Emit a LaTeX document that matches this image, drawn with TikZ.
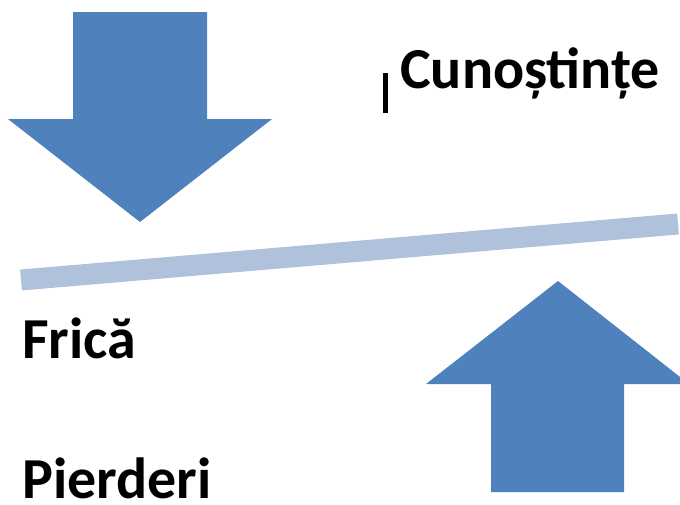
\documentclass[tikz,border=0pt]{standalone}
\usepackage{fontspec}
\setmainfont{Carlito}
\usepackage{tikz}

\definecolor{arrowblue}{RGB}{79,129,189}
\definecolor{barblue}{RGB}{176,193,220}

\begin{document}
\begin{tikzpicture}[x=1pt,
            y=-1pt,
            bigarrow/.style={fill=arrowblue,draw=none},
            label/.style={anchor=base west,inner sep=0pt,text depth=0pt,
                font=\fontsize{58}{68}\selectfont\bfseries}]

        \useasboundingbox (0,0) rectangle (680,504);

        % arrow pointing down
        \fill[bigarrow] (73,12) -- (207,12) -- (207,119) -- (272,119)
            -- (140,222) -- (8,119) -- (73,119) -- cycle;

        % the bar
        \coordinate (barleft)  at (21,280);
        \coordinate (barright) at (678,224);
        \draw[barblue,line width=21pt] (barleft) -- (barright);

        % arrow pointing up
        \fill[bigarrow] (491,492) -- (624,492) -- (624,384) -- (689,384)
            -- (558,281) -- (426,384) -- (491,384) -- cycle;

        \node[label] (know) at (400,88)  {Cunoștințe};
        \node[label] (fear) at (22,358)  {Frică};
        \node[label] (loss) at (22,498)  {Pierderi};

        \fill (383,73) rectangle (388,113);

    \end{tikzpicture}
\end{document}
